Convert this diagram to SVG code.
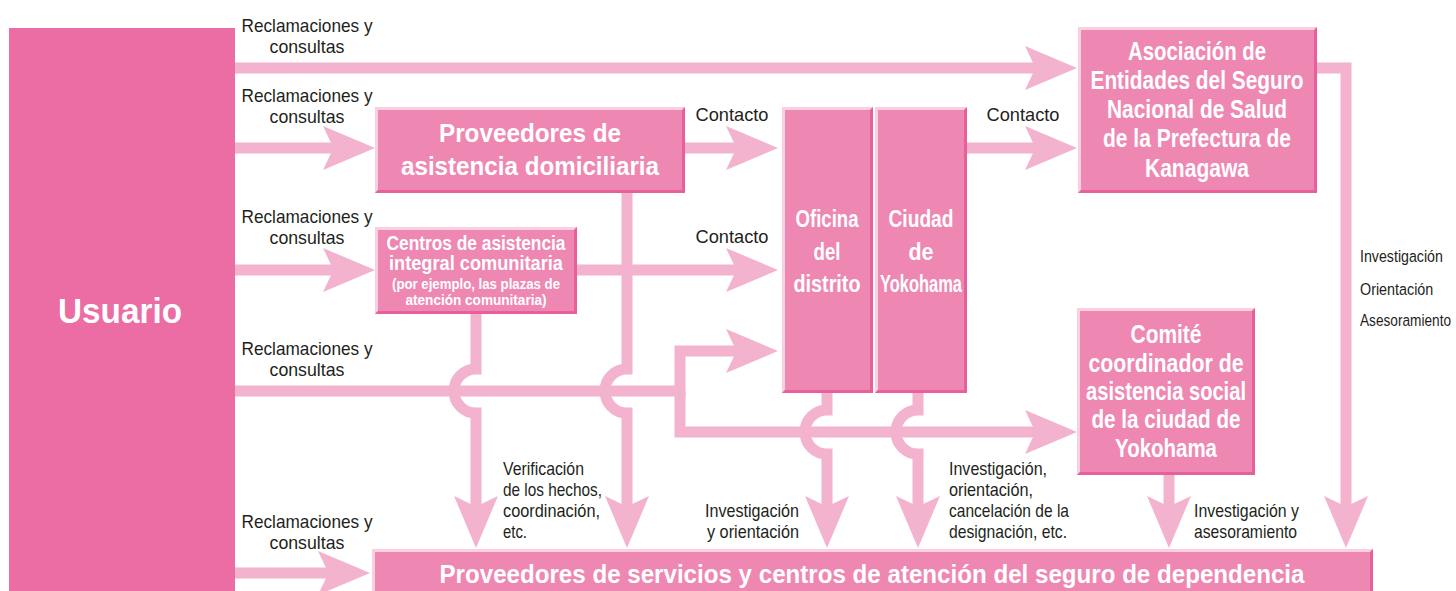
<svg xmlns="http://www.w3.org/2000/svg" width="1456" height="591" viewBox="0 0 1456 591">
<defs>
<style>
.box{fill:#EE88B3}
.usr{fill:#EC6CA4}
.lt{fill:#F9D0E1}
.dk{fill:#E85F9B}
.cn{fill:none;stroke:#F3B2CE;stroke-width:11;stroke-linejoin:miter;marker-end:url(#ah)}
.lb{font-family:"Liberation Sans",Arial,sans-serif;font-size:19px;fill:#231F20}
.lbs{font-family:"Liberation Sans",Arial,sans-serif;font-size:17px;fill:#231F20}
.wt{font-family:"Liberation Sans",Arial,sans-serif;font-weight:bold;fill:#FFFFFF;text-anchor:middle}
.m{text-anchor:middle}
</style>
<marker id="ah" markerUnits="userSpaceOnUse" viewBox="0 -22 52 44" markerWidth="52" markerHeight="44" refX="20" refY="0" orient="auto">
<path d="M0,-22 L52,0 L0,22 L10.5,0 Z" fill="#F3B2CE"/>
</marker>
</defs>
<rect width="1456" height="591" fill="#FFFFFF"/>

<g id="connectors">
<path class="cn" d="M235,68 H1045"/>
<path class="cn" d="M235,148 H343"/>
<path class="cn" d="M235,270 H343"/>
<path class="cn" d="M235,391 H680 V351 H746"/>
<path class="cn" d="M680,391 V432 H1045"/>
<path class="cn" d="M235,573 H338"/>
<path class="cn" d="M685,148 H746"/>
<path class="cn" d="M577,270 H746"/>
<path class="cn" d="M967,148 H1045"/>
<path class="cn" d="M1317,68 H1346 V516"/>
<path class="cn" d="M1169,475 V516"/>
<path class="cn" d="M476,314 V369 A22,22 0 0 0 476,413 V516"/>
<path class="cn" d="M627,193 V369 A22,22 0 0 0 627,413 V516"/>
<path class="cn" d="M827,393 V410 A22,22 0 0 0 827,454 V516"/>
<path class="cn" d="M918,393 V410 A22,22 0 0 0 918,454 V516"/>
</g>

<g id="labels">
<text class="lb m" x="307" y="32" textLength="131" lengthAdjust="spacingAndGlyphs">Reclamaciones y</text>
<text class="lb m" x="307" y="53" textLength="75" lengthAdjust="spacingAndGlyphs">consultas</text>
<text class="lb m" x="307" y="102" textLength="131" lengthAdjust="spacingAndGlyphs">Reclamaciones y</text>
<text class="lb m" x="307" y="123" textLength="75" lengthAdjust="spacingAndGlyphs">consultas</text>
<text class="lb m" x="307" y="223" textLength="131" lengthAdjust="spacingAndGlyphs">Reclamaciones y</text>
<text class="lb m" x="307" y="244" textLength="75" lengthAdjust="spacingAndGlyphs">consultas</text>
<text class="lb m" x="307" y="355" textLength="131" lengthAdjust="spacingAndGlyphs">Reclamaciones y</text>
<text class="lb m" x="307" y="376" textLength="75" lengthAdjust="spacingAndGlyphs">consultas</text>
<text class="lb m" x="307" y="528" textLength="131" lengthAdjust="spacingAndGlyphs">Reclamaciones y</text>
<text class="lb m" x="307" y="549" textLength="75" lengthAdjust="spacingAndGlyphs">consultas</text>
<text class="lb m" x="732" y="121" textLength="73" lengthAdjust="spacingAndGlyphs">Contacto</text>
<text class="lb m" x="732" y="243" textLength="73" lengthAdjust="spacingAndGlyphs">Contacto</text>
<text class="lb m" x="1023" y="121" textLength="73" lengthAdjust="spacingAndGlyphs">Contacto</text>
<text class="lb" x="503" y="475" textLength="81" lengthAdjust="spacingAndGlyphs">Verificación</text>
<text class="lb" x="503" y="496" textLength="99" lengthAdjust="spacingAndGlyphs">de los hechos,</text>
<text class="lb" x="503" y="517" textLength="97" lengthAdjust="spacingAndGlyphs">coordinación,</text>
<text class="lb" x="503" y="538" textLength="24" lengthAdjust="spacingAndGlyphs">etc.</text>
<text class="lb m" x="752" y="517" textLength="94" lengthAdjust="spacingAndGlyphs">Investigación</text>
<text class="lb m" x="753" y="538" textLength="92" lengthAdjust="spacingAndGlyphs">y orientación</text>
<text class="lb" x="949" y="475" textLength="98" lengthAdjust="spacingAndGlyphs">Investigación,</text>
<text class="lb" x="949" y="496" textLength="84" lengthAdjust="spacingAndGlyphs">orientación,</text>
<text class="lb" x="949" y="517" textLength="120" lengthAdjust="spacingAndGlyphs">cancelación de la</text>
<text class="lb" x="949" y="538" textLength="118" lengthAdjust="spacingAndGlyphs">designación, etc.</text>
<text class="lb" x="1194" y="517" textLength="105" lengthAdjust="spacingAndGlyphs">Investigación y</text>
<text class="lb" x="1194" y="538" textLength="103" lengthAdjust="spacingAndGlyphs">asesoramiento</text>
<text class="lbs" transform="translate(1360,262) scale(0.74,1)" textLength="112" lengthAdjust="spacingAndGlyphs">Investigación</text>
<text class="lbs" transform="translate(1360,295) scale(0.74,1)" textLength="99" lengthAdjust="spacingAndGlyphs">Orientación</text>
<text class="lbs" transform="translate(1360,326) scale(0.74,1)" textLength="123" lengthAdjust="spacingAndGlyphs">Asesoramiento</text>
</g>

<g id="usuario">
<rect class="usr" x="9" y="28" width="226" height="570"/>
<text class="wt" x="120" y="323" font-size="35" textLength="124" lengthAdjust="spacingAndGlyphs">Usuario</text>
</g>

<g id="asistencia-domiciliaria">
<rect class="box" x="375" y="107" width="310" height="86"/>
<polygon class="lt" points="375,107 685,107 682,110 378,110 378,190 375,193"/>
<polygon class="dk" points="685,107 685,193 375,193 378,190 682,190 682,110"/>
<text class="wt" x="530" y="142" font-size="26" textLength="182" lengthAdjust="spacingAndGlyphs">Proveedores de</text>
<text class="wt" x="530" y="175" font-size="26" textLength="258" lengthAdjust="spacingAndGlyphs">asistencia domiciliaria</text>
</g>

<g id="centros-comunitarios">
<rect class="box" x="375" y="227" width="202" height="87"/>
<polygon class="lt" points="375,227 577,227 574,230 378,230 378,311 375,314"/>
<polygon class="dk" points="577,227 577,314 375,314 378,311 574,311 574,230"/>
<text class="wt" x="476" y="250" font-size="20" textLength="179" lengthAdjust="spacingAndGlyphs">Centros de asistencia</text>
<text class="wt" x="476" y="270" font-size="20" textLength="174" lengthAdjust="spacingAndGlyphs">integral comunitaria</text>
<text class="wt" x="476" y="289" font-size="14" textLength="168" lengthAdjust="spacingAndGlyphs">(por ejemplo, las plazas de</text>
<text class="wt" x="476" y="305" font-size="14" textLength="141" lengthAdjust="spacingAndGlyphs">atención comunitaria)</text>
</g>

<g id="oficina-distrito">
<rect class="box" x="782" y="107" width="91" height="286"/>
<polygon class="lt" points="782,107 873,107 870,110 785,110 785,390 782,393"/>
<polygon class="dk" points="873,107 873,393 782,393 785,390 870,390 870,110"/>
<text class="wt" x="827" y="227" font-size="24" textLength="63" lengthAdjust="spacingAndGlyphs">Oficina</text>
<text class="wt" x="827" y="260" font-size="24" textLength="27" lengthAdjust="spacingAndGlyphs">del</text>
<text class="wt" x="827" y="292" font-size="24" textLength="67" lengthAdjust="spacingAndGlyphs">distrito</text>
</g>

<g id="ciudad-yokohama">
<rect class="box" x="875" y="107" width="92" height="286"/>
<polygon class="lt" points="875,107 967,107 964,110 878,110 878,390 875,393"/>
<polygon class="dk" points="967,107 967,393 875,393 878,390 964,390 964,110"/>
<text class="wt" x="921" y="227" font-size="24" textLength="65" lengthAdjust="spacingAndGlyphs">Ciudad</text>
<text class="wt" x="921" y="260" font-size="24" textLength="25" lengthAdjust="spacingAndGlyphs">de</text>
<text class="wt" x="921" y="292" font-size="24" textLength="82" lengthAdjust="spacingAndGlyphs">Yokohama</text>
</g>

<g id="asociacion-kanagawa">
<rect class="box" x="1078" y="27" width="239" height="166"/>
<polygon class="lt" points="1078,27 1317,27 1314,30 1081,30 1081,190 1078,193"/>
<polygon class="dk" points="1317,27 1317,193 1078,193 1081,190 1314,190 1314,30"/>
<text class="wt" x="1197" y="60" font-size="25" textLength="138" lengthAdjust="spacingAndGlyphs">Asociación de</text>
<text class="wt" x="1197" y="89" font-size="25" textLength="213" lengthAdjust="spacingAndGlyphs">Entidades del Seguro</text>
<text class="wt" x="1197" y="118" font-size="25" textLength="180" lengthAdjust="spacingAndGlyphs">Nacional de Salud</text>
<text class="wt" x="1197" y="147" font-size="25" textLength="188" lengthAdjust="spacingAndGlyphs">de la Prefectura de</text>
<text class="wt" x="1197" y="177" font-size="25" textLength="104" lengthAdjust="spacingAndGlyphs">Kanagawa</text>
</g>

<g id="comite-coordinador">
<rect class="box" x="1077" y="308" width="178" height="167"/>
<polygon class="lt" points="1077,308 1255,308 1252,311 1080,311 1080,472 1077,475"/>
<polygon class="dk" points="1255,308 1255,475 1077,475 1080,472 1252,472 1252,311"/>
<text class="wt" x="1166" y="343" font-size="25" textLength="71" lengthAdjust="spacingAndGlyphs">Comité</text>
<text class="wt" x="1166" y="372" font-size="25" textLength="155" lengthAdjust="spacingAndGlyphs">coordinador de</text>
<text class="wt" x="1166" y="400" font-size="25" textLength="160" lengthAdjust="spacingAndGlyphs">asistencia social</text>
<text class="wt" x="1166" y="428" font-size="25" textLength="149" lengthAdjust="spacingAndGlyphs">de la ciudad de</text>
<text class="wt" x="1166" y="457" font-size="25" textLength="102" lengthAdjust="spacingAndGlyphs">Yokohama</text>
</g>

<g id="proveedores-servicios">
<rect class="box" x="372" y="549" width="1001" height="50"/>
<polygon class="lt" points="372,549 1373,549 1370,552 375,552 375,596 372,599"/>
<polygon class="dk" points="1373,549 1373,599 1370,596 1370,552"/>
<text class="wt" x="872" y="583" font-size="25" textLength="865" lengthAdjust="spacingAndGlyphs">Proveedores de servicios y centros de atención del seguro de dependencia</text>
</g>
</svg>
